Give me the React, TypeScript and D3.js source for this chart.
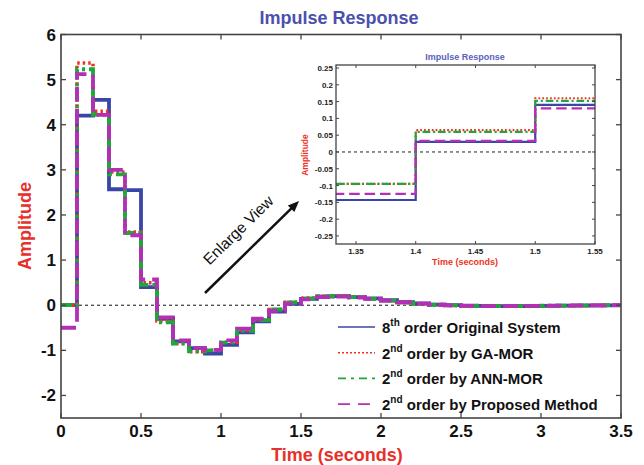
import * as d3 from "d3";

// sample instants (Ts = 0.1 s) and step values
const times = [0, 0.1, 0.2, 0.3, 0.4, 0.5, 0.6, 0.7, 0.8, 0.9, 1.0, 1.1, 1.2, 1.3, 1.4, 1.5, 1.6, 1.7,
  1.8, 1.9, 2.0, 2.1, 2.2, 2.3, 2.4, 2.5, 2.6, 2.7, 2.8, 2.9, 3.0, 3.1, 3.2, 3.3, 3.4, 3.5];

const original8 = [0, 4.2, 4.55, 2.57, 2.55, 0.4, -0.3, -0.8, -0.95, -1.07, -0.88, -0.6, -0.36, -0.143,
  0.03, 0.14, 0.19, 0.2, 0.18, 0.15, 0.11, 0.07, 0.04, 0.015, 0, -0.01, -0.015, -0.02, -0.02, -0.02,
  -0.015, -0.01, -0.01, -0.005, -0.005, -0.005];
const gaMor = [0, 5.37, 4.3, 2.95, 1.62, 0.5, -0.35, -0.85, -1.03, -1.0, -0.82, -0.56, -0.32, -0.095,
  0.065, 0.16, 0.2, 0.21, 0.18, 0.14, 0.1, 0.06, 0.03, 0.01, -0.005, -0.015, -0.02, -0.02, -0.02,
  -0.015, -0.01, -0.01, -0.005, -0.005, 0, 0];
const annMor = [0, 5.23, 4.22, 2.9, 1.6, 0.45, -0.38, -0.85, -1.02, -1.0, -0.83, -0.57, -0.33, -0.095,
  0.06, 0.152, 0.2, 0.2, 0.18, 0.14, 0.1, 0.06, 0.03, 0.01, -0.005, -0.015, -0.02, -0.02, -0.02,
  -0.015, -0.01, -0.01, -0.005, -0.005, 0, 0];
const proposed = [-0.5, 5.12, 4.22, 3.0, 1.55, 0.57, -0.27, -0.78, -0.95, -0.99, -0.78, -0.52, -0.3, -0.125,
  0.033, 0.13, 0.18, 0.19, 0.17, 0.14, 0.1, 0.065, 0.035, 0.01, -0.005, -0.015, -0.02, -0.02, -0.02,
  -0.015, -0.01, -0.01, -0.005, -0.005, 0, 0];

const mainXTicks = [0, 0.5, 1, 1.5, 2, 2.5, 3, 3.5];
const mainYTicks = [-2, -1, 0, 1, 2, 3, 4, 5, 6];
const insetXTicks = [1.35, 1.4, 1.45, 1.5, 1.55];
const insetYTicks = [-0.25, -0.2, -0.15, -0.1, -0.05, 0, 0.05, 0.1, 0.15, 0.2, 0.25];

const series = [
  { key: "orig", values: original8, color: "#3a45a8", dash: "", sup: "th", pre: "8", label: " order Original System", legDash: "" },
  { key: "ga", values: gaMor, color: "#ee3324", dash: "2.5,3", sup: "nd", pre: "2", label: " order by GA-MOR", legDash: "2,2" },
  { key: "ann", values: annMor, color: "#1fa83a", dash: "11,4,3,4", sup: "nd", pre: "2", label: " order by ANN-MOR", legDash: "8,5,3,5" },
  { key: "prop", values: proposed, color: "#b32fb5", dash: "15,7", sup: "nd", pre: "2", label: " order by Proposed Method", legDash: "12,8" },
];

const FONT = "'Liberation Sans', Arial, sans-serif";

export default function App() {
  const W = 644, H = 465;
  const m = { left: 61, right: 621, top: 34.5, bottom: 418 };
  const x = d3.scaleLinear().domain([0, 3.5]).range([m.left, m.right]);
  const y = d3.scaleLinear().domain([-2.5, 6]).range([m.bottom, m.top]);

  const ins = { left: 336, right: 595, top: 65, bottom: 244 };
  const xi = d3.scaleLinear().domain([1.3333, 1.55]).range([ins.left, ins.right]);
  const yi = d3.scaleLinear().domain([-0.274, 0.259]).range([ins.bottom, ins.top]);

  const mainLine = (vals: number[]) =>
    d3.line<number>().x((_, i) => x(times[i])).y((d) => y(d)).curve(d3.curveStepAfter)(vals) || "";
  const insetLine = (vals: number[]) =>
    d3.line<number>().x((_, i) => xi(times[i])).y((d) => yi(d)).curve(d3.curveStepAfter)(vals) || "";

  const tick = 5;
  const legY0 = 327, legStep = 25.7;

  // arrow geometry
  const a0 = [205, 293], a1 = [299, 201];
  const ang = Math.atan2(a1[1] - a0[1], a1[0] - a0[0]);
  const head = 12;
  const hp = (da: number) => [a1[0] - head * Math.cos(ang + da), a1[1] - head * Math.sin(ang + da)];
  const h1 = hp(0.4), h2 = hp(-0.4);

  return (
    <svg width={W} height={H} style={{ position: "absolute", left: 0, top: 0, background: "#fff" }} fontFamily={FONT}>
      <defs>
        <clipPath id="mainClip">
          <rect x={m.left} y={m.top} width={m.right - m.left} height={m.bottom - m.top} />
        </clipPath>
        <clipPath id="insClip">
          <rect x={ins.left} y={ins.top} width={ins.right - ins.left} height={ins.bottom - ins.top} />
        </clipPath>
      </defs>

      {/* titles */}
      <text x={339} y={24} textAnchor="middle" fontSize={18} fontWeight="bold" fill="#4a50ae">Impulse Response</text>
      <text x={337} y={461} textAnchor="middle" fontSize={18} fontWeight="bold" fill="#e8302a">Time (seconds)</text>
      <text transform="translate(31,226) rotate(-90)" textAnchor="middle" fontSize={18} fontWeight="bold" fill="#e8302a">Amplitude</text>

      {/* zero reference */}
      <line x1={m.left} x2={m.right} y1={y(0)} y2={y(0)} stroke="#111" strokeWidth={1} strokeDasharray="3,3" />

      {/* curves */}
      <g clipPath="url(#mainClip)" fill="none">
        {series.map((s) => (
          <path key={s.key} d={mainLine(s.values)} stroke={s.color} strokeWidth={s.key === "ga" ? 3.5 : 3.8}
            strokeDasharray={s.dash || undefined} strokeLinecap={s.key === "ga" ? "butt" : "butt"} />
        ))}
      </g>

      {/* main frame and ticks */}
      <rect x={m.left} y={m.top} width={m.right - m.left} height={m.bottom - m.top} fill="none" stroke="#444" strokeWidth={1.6} />
      {mainXTicks.map((t) => (
        <g key={"mx" + t}>
          <line x1={x(t)} x2={x(t)} y1={m.bottom} y2={m.bottom - tick} stroke="#444" strokeWidth={1.3} />
          <line x1={x(t)} x2={x(t)} y1={m.top} y2={m.top + tick} stroke="#444" strokeWidth={1.3} />
          <text x={x(t)} y={437} textAnchor="middle" fontSize={17} fontWeight="bold" fill="#111">{t}</text>
        </g>
      ))}
      {mainYTicks.map((t) => (
        <g key={"my" + t}>
          <line x1={m.left} x2={m.left + tick} y1={y(t)} y2={y(t)} stroke="#444" strokeWidth={1.3} />
          <line x1={m.right} x2={m.right - tick} y1={y(t)} y2={y(t)} stroke="#444" strokeWidth={1.3} />
          <text x={56} y={y(t) + 6} textAnchor="end" fontSize={17} fontWeight="bold" fill="#111">{t}</text>
        </g>
      ))}

      {/* enlarge view arrow */}
      <line x1={a0[0]} y1={a0[1]} x2={a1[0] - 6 * Math.cos(ang)} y2={a1[1] - 6 * Math.sin(ang)} stroke="#111" strokeWidth={2.5} />
      <polygon points={`${a1[0]},${a1[1]} ${h1[0]},${h1[1]} ${h2[0]},${h2[1]}`} fill="#111" />
      <text transform="translate(242,234) rotate(-44.4)" textAnchor="middle" fontSize={15.5} fill="#111">Enlarge View</text>

      {/* inset */}
      <rect x={ins.left} y={ins.top} width={ins.right - ins.left} height={ins.bottom - ins.top} fill="#fff" />
      <line x1={ins.left} x2={ins.right} y1={yi(0)} y2={yi(0)} stroke="#222" strokeWidth={1} strokeDasharray="3,3" />
      <g clipPath="url(#insClip)" fill="none">
        {series.map((s) => (
          <path key={"i" + s.key} d={insetLine(s.values)} stroke={s.color} strokeWidth={2.2}
            strokeDasharray={s.dash ? s.dash.split(",").map((v) => +v * 0.7).join(",") : undefined} />
        ))}
      </g>
      <rect x={ins.left} y={ins.top} width={ins.right - ins.left} height={ins.bottom - ins.top} fill="none" stroke="#444" strokeWidth={1.3} />
      {insetXTicks.map((t) => (
        <g key={"ix" + t}>
          <line x1={xi(t)} x2={xi(t)} y1={ins.bottom} y2={ins.bottom - 3} stroke="#444" />
          <line x1={xi(t)} x2={xi(t)} y1={ins.top} y2={ins.top + 3} stroke="#444" />
          <text x={xi(t)} y={254} textAnchor="middle" fontSize={8} fontWeight="bold" fill="#222">{t}</text>
        </g>
      ))}
      {insetYTicks.map((t) => (
        <g key={"iy" + t}>
          <line x1={ins.left} x2={ins.left + 3} y1={yi(t)} y2={yi(t)} stroke="#444" />
          <line x1={ins.right} x2={ins.right - 3} y1={yi(t)} y2={yi(t)} stroke="#444" />
          <text x={333} y={yi(t) + 3} textAnchor="end" fontSize={8} fontWeight="bold" fill="#222">{t}</text>
        </g>
      ))}
      <text x={465} y={60} textAnchor="middle" fontSize={9} fontWeight="bold" fill="#5a5fc0">Impulse Response</text>
      <text x={465} y={265} textAnchor="middle" fontSize={9} fontWeight="bold" fill="#ee3324">Time (seconds)</text>
      <text transform="translate(308,155) rotate(-90)" textAnchor="middle" fontSize={8.5} fontWeight="bold" fill="#ee3324">Amplitude</text>

      {/* legend */}
      {series.map((s, i) => {
        const ly = legY0 + i * legStep;
        return (
          <g key={"lg" + s.key}>
            <line x1={338} x2={375} y1={ly} y2={ly} stroke={s.color} strokeWidth={1.6} strokeDasharray={s.legDash || undefined} />
            <text x={382} y={ly + 6} fontSize={15} fontWeight="bold" fill="#111">
              {s.pre}
              <tspan fontSize={10} dy={-7}>{s.sup}</tspan>
              <tspan dy={7}>{s.label}</tspan>
            </text>
          </g>
        );
      })}
    </svg>
  );
}
